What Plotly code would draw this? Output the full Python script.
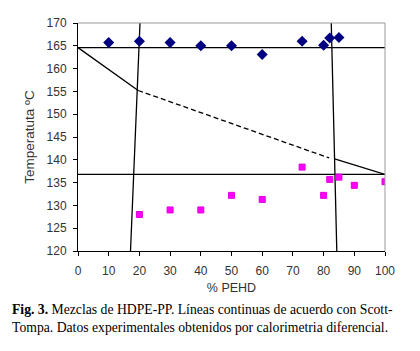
import plotly.graph_objects as go

# --- data ---
pp_x = [10, 20, 30, 40, 50, 60, 73, 80, 82, 85]
pp_y = [165.7, 166.0, 165.7, 165.0, 165.0, 163.1, 166.0, 165.1, 166.7, 166.8]

pe_x = [20, 30, 40, 50, 60, 73, 80, 82, 85, 90, 100]
pe_y = [128.0, 129.0, 129.0, 132.2, 131.3, 138.4, 132.2, 135.7, 136.2, 134.4, 135.2]

# Scott-Tompa lines
liq1_x = [0, 19.6]
liq1_y = [164.6, 155.2]
liq_dash_x = [19.6, 81.8]
liq_dash_y = [155.2, 140.4]
liq2_x = [83.6, 100]
liq2_y = [140.2, 136.8]
hline_hi_x = [0, 100]
hline_hi_y = [164.6, 164.6]
hline_lo_x = [0, 100]
hline_lo_y = [136.8, 136.8]
vline_l_x = [20.2, 17.1]
vline_l_y = [170, 120]
vline_r_x = [82.5, 84.3]
vline_r_y = [170, 120]

x_ticks = list(range(0, 101, 10))
y_ticks = list(range(120, 171, 5))

fig = go.Figure()

def line(x, y, dash="solid"):
    fig.add_trace(go.Scatter(x=x, y=y, mode="lines",
                             line=dict(color="black", width=1.3, dash=dash),
                             showlegend=False, hoverinfo="skip"))

line(hline_hi_x, hline_hi_y)
line(hline_lo_x, hline_lo_y)
line(vline_l_x, vline_l_y)
line(vline_r_x, vline_r_y)
line(liq1_x, liq1_y)
line(liq_dash_x, liq_dash_y, dash="5px,3px")
line(liq2_x, liq2_y)

fig.add_trace(go.Scatter(x=pp_x, y=pp_y, mode="markers",
                         marker=dict(symbol="diamond", size=8.5, color="#000080"),
                         showlegend=False))
fig.add_trace(go.Scatter(x=pe_x, y=pe_y, mode="markers",
                         marker=dict(symbol="square", size=6, color="#FF00FF",
                                     line=dict(color="#E000E0", width=1)),
                         showlegend=False))

axis_font = dict(family="Liberation Sans, Arial, sans-serif", size=12, color="#333333")

fig.update_layout(
    width=420, height=351,
    margin=dict(l=70, r=43, t=8, b=108),
    paper_bgcolor="white", plot_bgcolor="white",
    font=axis_font,
    xaxis=dict(range=[0, 100], tickvals=x_ticks, ticks="outside", ticklen=4,
               tickcolor="black", showline=True, linecolor="black", linewidth=1,
               ticklabelstandoff=5,
               mirror=False, showgrid=False, zeroline=False,
               title=dict(text="% PEHD", standoff=5, font=dict(size=12.5, color="#333333"))),
    yaxis=dict(range=[120, 170], tickvals=y_ticks, ticks="outside", ticklen=4,
               tickcolor="black", showline=True, linecolor="black", linewidth=1,
               ticklabelstandoff=4,
               showgrid=False, zeroline=False,
               title=dict(text="Temperatuta ºC", standoff=8, font=dict(size=13.5, color="#333333"))),
    shapes=[
        dict(type="line", xref="paper", yref="paper", x0=0, x1=1, y0=1, y1=1,
             line=dict(color="#999999", width=1)),
        dict(type="line", xref="paper", yref="paper", x0=1, x1=1, y0=0, y1=1,
             line=dict(color="#999999", width=1)),
    ],
)

cap_font = dict(family="Liberation Serif, Times New Roman, serif", size=13.7, color="black")
fig.add_annotation(xref="paper", yref="paper", x=-0.222, y=-0.213, xanchor="left", yanchor="top",
                   showarrow=False, align="left", font=cap_font,
                   text="<b>Fig. 3.</b> Mezclas de HDPE-PP. Líneas continuas de acuerdo con Scott-<br>"
                        "Tompa. Datos experimentales obtenidos por calorimetria diferencial.")

fig.write_html("out.html")
